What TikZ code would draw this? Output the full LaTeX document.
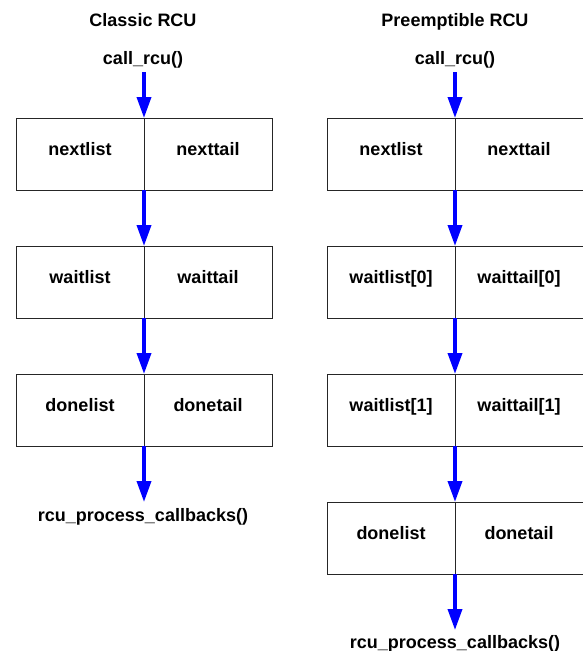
\documentclass[tikz,border=0pt]{standalone}
\usepackage{fontspec}
\setmainfont{Liberation Sans}
\usetikzlibrary{arrows.meta}
\tikzset{
  half/.style={draw=black!85, line width=0.8pt, minimum width=128pt, minimum height=72pt, inner sep=0pt, outer sep=0pt},
  txt/.style={font=\fontsize{18}{20}\selectfont\bfseries, inner sep=0pt, anchor=base},
  flow/.style={draw=blue, line width=3.6pt, -{Triangle[length=21pt,width=14pt]}},
}
\begin{document}
\begin{tikzpicture}[x=1pt,y=-1pt]
\useasboundingbox (0,0) rectangle (582,651);
% ---------- Classic RCU ----------
\node[txt] (t1) at (143,26) {Classic RCU};
\node[txt] (cr1) at (143,64) {call\_rcu()};
\node[half] (a1l) at (80,154) {};
\node[half] (a1r) at (208,154) {};
\node[half] (a2l) at (80,282) {};
\node[half] (a2r) at (208,282) {};
\node[half] (a3l) at (80,410) {};
\node[half] (a3r) at (208,410) {};
\node[txt] (a1lt) at (80,155) {nextlist};
\node[txt] (a1rt) at (208,155) {nexttail};
\node[txt] (a2lt) at (80,283) {waitlist};
\node[txt] (a2rt) at (208,283) {waittail};
\node[txt] (a3lt) at (80,411) {donelist};
\node[txt] (a3rt) at (208,411) {donetail};
\node[txt] (pc1) at (143,521) {rcu\_process\_callbacks()};
\coordinate (a0) at (144,72);
\coordinate (a4) at (144,502);
\draw[flow] (a0) -- (a1l.north east);
\draw[flow] (a1l.south east) -- (a2l.north east);
\draw[flow] (a2l.south east) -- (a3l.north east);
\draw[flow] (a3l.south east) -- (a4);
% ---------- Preemptible RCU ----------
\node[txt] (t2) at (455,26) {Preemptible RCU};
\node[txt] (cr2) at (455,64) {call\_rcu()};
\node[half] (b1l) at (391,154) {};
\node[half] (b1r) at (519,154) {};
\node[half] (b2l) at (391,282) {};
\node[half] (b2r) at (519,282) {};
\node[half] (b3l) at (391,410) {};
\node[half] (b3r) at (519,410) {};
\node[half] (b4l) at (391,538) {};
\node[half] (b4r) at (519,538) {};
\node[txt] (b1lt) at (391,155) {nextlist};
\node[txt] (b1rt) at (519,155) {nexttail};
\node[txt] (b2lt) at (391,283) {waitlist[0]};
\node[txt] (b2rt) at (519,283) {waittail[0]};
\node[txt] (b3lt) at (391,411) {waitlist[1]};
\node[txt] (b3rt) at (519,411) {waittail[1]};
\node[txt] (b4lt) at (391,539) {donelist};
\node[txt] (b4rt) at (519,539) {donetail};
\node[txt] (pc2) at (455,648) {rcu\_process\_callbacks()};
\coordinate (b0) at (455,72);
\coordinate (b5) at (455,630);
\draw[flow] (b0) -- (b1l.north east);
\draw[flow] (b1l.south east) -- (b2l.north east);
\draw[flow] (b2l.south east) -- (b3l.north east);
\draw[flow] (b3l.south east) -- (b4l.north east);
\draw[flow] (b4l.south east) -- (b5);
\end{tikzpicture}
\end{document}
